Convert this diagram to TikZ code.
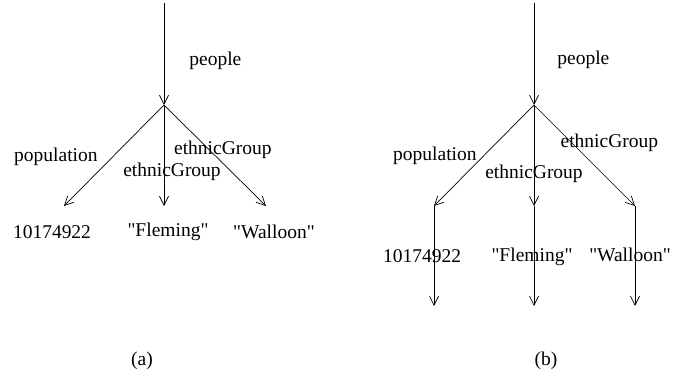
\documentclass[tikz,border=0pt]{standalone}
\usepackage{fontspec}
\setmainfont{Liberation Serif}[Ligatures=TeXOff]
\usetikzlibrary{arrows.meta}

\begin{document}
\begin{tikzpicture}[x=1pt,y=-1pt,
    every node/.style={font=\fontsize{19.5}{22}\selectfont,inner sep=0pt},
    arc/.style={-{Straight Barb[length=9pt,width=9pt]},line width=0.7pt}]
    \useasboundingbox (0,0) rectangle (673,381);
    % (a)
    \coordinate (topA) at (164,3);
    \coordinate (rootA) at (164,105);
    \coordinate (popA) at (64,206);
    \coordinate (flemA) at (164,206);
    \coordinate (wallA) at (266,206);
    \draw[arc] (topA)--(rootA) node[pos=.57,anchor=west,xshift=25pt]{people};
    \draw[arc] (rootA)--(popA) node[pos=.51,anchor=east,xshift=-15pt]{population};
    \draw[arc] (rootA)--(flemA) node[pos=.66,xshift=8pt]{ethnicGroup};
    \draw[arc] (rootA)--(wallA) node[pos=.44,xshift=14pt]{ethnicGroup};
    \node (numA) at (52,232) {10174922};
    \node (flemtxtA) at (168,232) {"Fleming"};
    \node (walltxtA) at (274,232) {"Walloon"};
    \node (capA) at (142,361) {(a)};
    % (b)
    \coordinate (topB) at (534,3);
    \coordinate (rootB) at (534,105);
    \coordinate (popB) at (434,206);
    \coordinate (flemB) at (534,206);
    \coordinate (wallB) at (635,206);
    \coordinate (popendB) at (434,306);
    \coordinate (flemendB) at (534,306);
    \coordinate (wallendB) at (635,306);
    \draw[arc] (topB)--(rootB) node[pos=.56,anchor=west,xshift=23pt]{people};
    \draw[arc] (rootB)--(popB) node[pos=.5,anchor=east,xshift=-7pt]{population};
    \draw[arc] (rootB)--(flemB) node[pos=.68]{ethnicGroup};
    \draw[arc] (rootB)--(wallB) node[pos=.37,xshift=38pt]{ethnicGroup};
    \draw[arc] (popB)--(popendB);
    \draw[arc] (flemB)--(flemendB);
    \draw[arc] (wallB)--(wallendB);
    \node (numB) at (422,256) {10174922};
    \node (flemtxtB) at (532,257) {"Fleming"};
    \node (walltxtB) at (630,255) {"Walloon"};
    \node (capB) at (546,361) {(b)};
\end{tikzpicture}
\end{document}
